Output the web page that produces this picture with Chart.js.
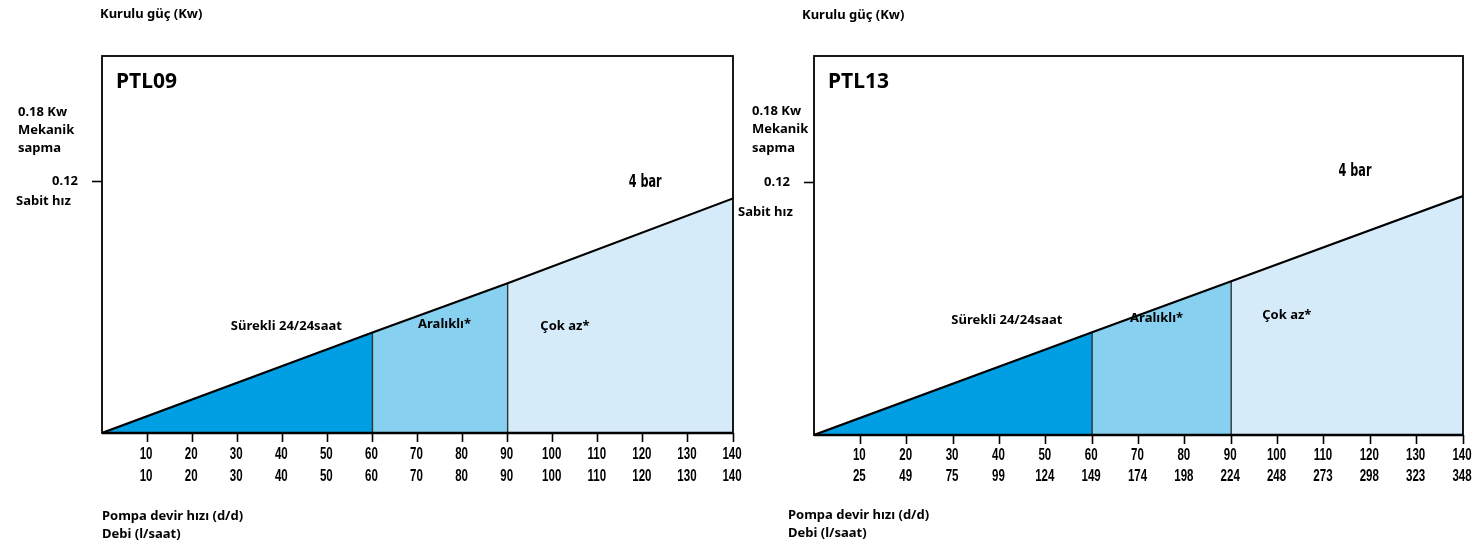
<!DOCTYPE html>
<html>
<head>
<meta charset="utf-8">
<script src="https://cdn.jsdelivr.net/npm/chart.js@4"></script>
<style>
  body { margin: 0; background: #fff; }
  .wrap { position: absolute; top: 0; height: 547px; }
  #left { left: 0; width: 760px; }
  #right { left: 737px; width: 737px; }
</style>
</head>
<body>
<div class="wrap" id="left"><canvas id="c1"></canvas></div>
<div class="wrap" id="right"><canvas id="c2"></canvas></div>
<script>
// pump speed (d/d) where the zones change
const zoneBreaks = [0, 60, 90, 140];
// installed power (kW) read at those speeds
const powerPTL09 = [0, 0.048, 0.0715, 0.112];
const powerPTL13 = [0, 0.0488, 0.073, 0.1135];

const rpmTicks = [10, 20, 30, 40, 50, 60, 70, 80, 90, 100, 110, 120, 130, 140];
const flowPTL09 = [10, 20, 30, 40, 50, 60, 70, 80, 90, 100, 110, 120, 130, 140];
const flowPTL13 = [25, 49, 75, 99, 124, 149, 174, 198, 224, 248, 273, 298, 323, 348];

const zoneNames = ['Sürekli 24/24saat', 'Aralıklı*', 'Çok az*'];
const zoneColors = ['#009fe3', '#87d0f0', '#d5ebf9'];

const boldFont = '"Noto Sans", "DejaVu Sans", sans-serif';
const numFont = '"Liberation Sans", Arial, sans-serif';

function buildDatasets(power) {
    const sets = [];
    for (let i = 0; i < 3; i++) {
        sets.push({
            data: [{x: zoneBreaks[i], y: power[i]}, {x: zoneBreaks[i + 1], y: power[i + 1]}],
            backgroundColor: zoneColors[i],
            borderWidth: 0,
            fill: 'origin',
            pointRadius: 0,
            order: 3
        });
    }
    // vertical separators
    for (let i = 1; i < 3; i++) {
        sets.push({
            data: [{x: zoneBreaks[i], y: 0}, {x: zoneBreaks[i], y: power[i]}],
            borderColor: '#333',
            borderWidth: 1.4,
            fill: false,
            pointRadius: 0,
            order: 2
        });
    }
    // slope line
    sets.push({
        data: power.map((p, i) => ({x: zoneBreaks[i], y: p})),
        borderColor: '#000',
        borderWidth: 2.2,
        fill: false,
        pointRadius: 0,
        order: 1
    });
    return sets;
}

// condensed text: squeeze horizontally around the anchor
function narrowText(ctx, text, x, y, squeeze) {
    ctx.save();
    ctx.translate(x, y);
    ctx.scale(squeeze, 1);
    ctx.fillText(text, 0, 0);
    ctx.restore();
}

function textPlugin(opts, flow) {
    return {
        id: 'texts',
        afterDraw(chart) {
            const ctx = chart.ctx;
            const a = chart.chartArea;
            const xs = chart.scales.x, ys = chart.scales.y;
            ctx.save();
            // frame
            ctx.strokeStyle = '#000';
            ctx.lineWidth = 1.8;
            ctx.strokeRect(a.left, a.top, a.right - a.left, a.bottom - a.top);
            ctx.lineWidth = 2.4;
            ctx.beginPath();
            ctx.moveTo(a.left, a.bottom);
            ctx.lineTo(a.right, a.bottom);
            ctx.stroke();

            ctx.fillStyle = '#000';
            ctx.textBaseline = 'middle';

            // x tick labels, two rows
            ctx.textAlign = 'center';
            ctx.font = 'bold 16px ' + numFont;
            rpmTicks.forEach((v, i) => {
                const px = xs.getPixelForValue(v) - 1;
                narrowText(ctx, String(v), px, a.bottom + opts.rowY[0], 0.72);
                narrowText(ctx, String(flow[i]), px, a.bottom + opts.rowY[1], 0.72);
            });

            ctx.textAlign = 'left';
            ctx.font = 'bold 13px ' + boldFont;
            opts.plain.forEach(t => ctx.fillText(t[0], t[1], t[2]));

            ctx.font = 'bold 21px ' + boldFont;
            ctx.fillText(opts.title, a.left + 14, a.top + 26);

            ctx.textAlign = 'center';
            ctx.font = 'bold 17px "DejaVu Sans", sans-serif';
            narrowText(ctx, '4 bar', xs.getPixelForValue(opts.barAt[0]), ys.getPixelForValue(opts.barAt[1]), 0.66);
            ctx.font = 'bold 13px ' + boldFont;
            zoneNames.forEach((n, i) => {
                const p = opts.zoneAt[i];
                ctx.fillText(n, xs.getPixelForValue(p[0]), ys.getPixelForValue(p[1]));
            });
            ctx.restore();
        }
    };
}

function makeChart(id, power, flow, opts) {
    new Chart(document.getElementById(id), {
        type: 'line',
        data: {datasets: buildDatasets(power)},
        options: {
            responsive: true,
            maintainAspectRatio: false,
            animation: false,
            layout: {padding: opts.padding},
            plugins: {legend: {display: false}, tooltip: {enabled: false}},
            scales: {
                x: {
                    type: 'linear',
                    min: 0,
                    max: 140,
                    afterBuildTicks: s => { s.ticks = rpmTicks.map(v => ({value: v})); },
                    afterFit: s => { s.height = 60; s.paddingLeft = 0; s.paddingRight = 0; },
                    grid: {drawOnChartArea: false, drawTicks: true, tickLength: 9, tickColor: '#000', tickWidth: 1.6},
                    border: {display: false},
                    ticks: {display: false}
                },
                y: {
                    min: 0,
                    max: 0.18,
                    afterBuildTicks: s => { s.ticks = [{value: 0.12}]; },
                    afterFit: s => { s.width = opts.yWidth; },
                    grid: {drawOnChartArea: false, drawTicks: true, tickLength: 10, tickColor: '#000', tickWidth: 1.6},
                    border: {display: false},
                    ticks: {
                        padding: 14,
                        color: '#000',
                        font: {family: boldFont, size: 13, weight: 'bold'},
                        callback: v => v.toFixed(2)
                    }
                }
            }
        },
        plugins: [textPlugin(opts, flow)]
    });
}

makeChart('c1', powerPTL09, flowPTL09, {
    padding: {top: 56, right: 27, bottom: 54, left: 0},
    yWidth: 102,
    title: 'PTL09',
    rowY: [22, 43.5],
    plain: [
        ['Kurulu güç (Kw)', 100, 14],
        ['0.18 Kw', 18, 112], ['Mekanik', 18, 130], ['sapma', 18, 148],
        ['Sabit hız', 16, 201],
        ['Pompa devir hızı (d/d)', 102, 516], ['Debi (l/saat)', 102, 534]
    ],
    barAt: [120.5, 0.1195],
    zoneAt: [[40.9, 0.0508], [76.0, 0.052], [102.7, 0.051]]
});

makeChart('c2', powerPTL13, flowPTL13, {
    padding: {top: 56, right: 11, bottom: 52, left: 0},
    yWidth: 77,
    title: 'PTL13',
    rowY: [20.5, 42],
    plain: [
        ['Kurulu güç (Kw)', 65, 15],
        ['0.18 Kw', 15, 111], ['Mekanik', 15, 129], ['sapma', 15, 148],
        ['Sabit hız', 1, 212],
        ['Pompa devir hızı (d/d)', 51, 515], ['Debi (l/saat)', 51, 533]
    ],
    barAt: [116.7, 0.1252],
    zoneAt: [[41.6, 0.0544], [73.9, 0.0555], [102.0, 0.0568]]
});
</script>
</body>
</html>
